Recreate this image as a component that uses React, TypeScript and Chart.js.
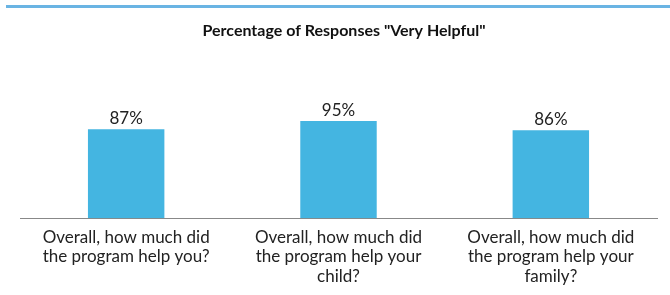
import React, { useEffect, useRef } from "react";
import { Chart, registerables } from "chart.js";

Chart.register(...registerables);

const categories: string[][] = [
  ["Overall, how much did", "the program help you?"],
  ["Overall, how much did", "the program help your", "child?"],
  ["Overall, how much did", "the program help your", "family?"],
];
const values: number[] = [87, 95, 86];
const valueLabels: string[] = ["87%", "95%", "86%"];
const titleText = 'Percentage of Responses "Very Helpful"';

const FONT = "Lato, 'Open Sans', sans-serif";

const valueLabelPlugin = {
  id: "valueLabels",
  afterDatasetsDraw(chart: any) {
    const ctx = chart.ctx;
    const meta = chart.getDatasetMeta(0);
    ctx.save();
    ctx.fillStyle = "#222";
    ctx.font = `17px ${FONT}`;
    ctx.textAlign = "center";
    ctx.textBaseline = "bottom";
    meta.data.forEach((bar: any, i: number) => {
      ctx.fillText(valueLabels[i], bar.x, bar.y - 2);
    });
    ctx.restore();
  },
};

const titlePlugin = {
  id: "customTitle",
  afterDraw(chart: any) {
    const ctx = chart.ctx;
    ctx.save();
    ctx.fillStyle = "#111";
    ctx.font = `bold 16px ${FONT}`;
    ctx.textAlign = "center";
    ctx.textBaseline = "middle";
    ctx.fillText(titleText, 344, 31);
    ctx.restore();
  },
};

export default function App() {
  const ref = useRef<HTMLCanvasElement>(null);
  useEffect(() => {
    const chart = new Chart(ref.current!, {
      type: "bar",
      data: {
        labels: categories,
        datasets: [
          {
            data: values,
            backgroundColor: "#44b5e1",
            categoryPercentage: 1,
            barPercentage: 0.36,
          },
        ],
      },
      options: {
        animation: false,
        responsive: false,
        layout: { padding: { left: 20, right: 13, bottom: 8, top: 116 } },
        plugins: {
          legend: { display: false },
          tooltip: { enabled: false },
          title: { display: false },
        },
        scales: {
          x: {
            grid: { display: false },
            border: { display: true, color: "#888", width: 1 },
            ticks: {
              color: "#222",
              font: { family: FONT, size: 17, lineHeight: 1.15 },
              padding: 1,
              maxRotation: 0,
              autoSkip: false,
            },
          },
          y: {
            display: false,
            min: 0,
            max: 100,
          },
        },
      },
      plugins: [valueLabelPlugin, titlePlugin],
    });
    return () => chart.destroy();
  }, []);
  return (
    <div style={{ position: "fixed", left: 0, top: 0, width: 670, height: 295, background: "#fff" }}>
      <div style={{ position: "absolute", left: 6, right: 0, top: 5, height: 3, background: "#6ab4e3" }} />
      <canvas ref={ref} width={670} height={295} style={{ position: "absolute", left: 0, top: 0 }} />
    </div>
  );
}
